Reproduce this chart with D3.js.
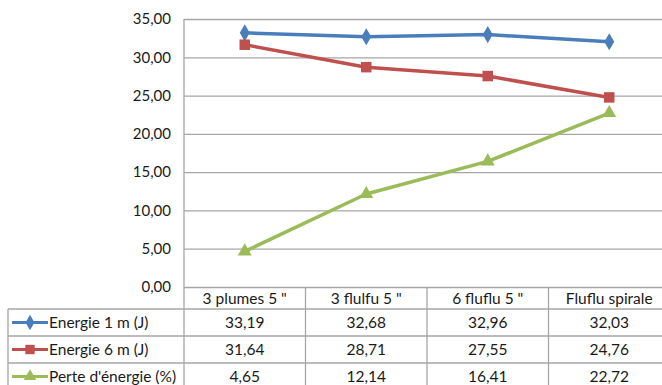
<!DOCTYPE html>
<html><head><meta charset="utf-8">
<script src="https://cdn.jsdelivr.net/npm/d3@7"></script>
<style>body{margin:0;background:#fff;} svg{display:block;} text{font-family:Lato, "Open Sans", sans-serif;fill:#1a1a1a;}</style>
</head><body><svg id="c" width="662" height="385"></svg>
<script>
const categories = ["3 plumes 5 \"", "3 flulfu 5 \"", "6 fluflu 5 \"", "Fluflu spirale"];
const seriesNames = ["Energie 1 m (J)", "Energie 6 m (J)", "Perte d'énergie (%)"];
const energie1m = [33.19, 32.68, 32.96, 32.03];
const energie6m = [31.64, 28.71, 27.55, 24.76];
const perte = [4.65, 12.14, 16.41, 22.72];
const yTicks = [0, 5, 10, 15, 20, 25, 30, 35];

(function () {
const series = [
  {name: seriesNames[0], values: energie1m, color: "#4a7ebb", shape: d3.symbolDiamond, size: 85},
  {name: seriesNames[1], values: energie6m, color: "#c0504d", shape: d3.symbolSquare, size: 110},
  {name: seriesNames[2], values: perte, color: "#9bbb59", shape: d3.symbolTriangle, size: 85}
];

const loc = d3.formatLocale({decimal: ",", thousands: " ", grouping: [3], currency: ["", "€"]});
const fmt = loc.format(".2f");

const svg = d3.select("#c");
const pLeft = 184, pRight = 670, pTop = 19, pBottom = 287;
const x = d3.scaleBand().domain(categories).range([pLeft, pRight]).padding(0);
const y = d3.scaleLinear().domain([0, 35]).range([pBottom, pTop]);
const gridColor = "#a6a6a6";
const fs = 15.5;

const ax = svg.append("g").attr("transform", `translate(${pLeft},0)`)
  .call(d3.axisLeft(y).tickValues(yTicks).tickFormat(fmt).tickSize(-(pRight - pLeft)).tickPadding(13));
ax.select(".domain").remove();
ax.selectAll(".tick line").attr("stroke", gridColor).attr("stroke-width", 1.3);
ax.selectAll(".tick text").attr("font-size", 15).style("font-family", "Lato, sans-serif").attr("fill", "#1a1a1a");

const headerTop = pBottom, headerBottom = 309, rowH = 27;
const tableLeft = 8;
const rowTops = series.map((s, i) => headerBottom + i * rowH);
const tableBottom = headerBottom + series.length * rowH;

const lines = svg.append("g").attr("stroke", gridColor).attr("stroke-width", 1.3);
lines.append("line").attr("x1", pLeft).attr("x2", pLeft).attr("y1", pTop).attr("y2", tableBottom);
x.domain().forEach(c => {
  const xr = x(c) + x.bandwidth();
  lines.append("line").attr("x1", xr).attr("x2", xr).attr("y1", headerTop).attr("y2", tableBottom);
});
lines.append("line").attr("x1", tableLeft).attr("x2", tableLeft).attr("y1", headerBottom).attr("y2", tableBottom);
[headerBottom, ...rowTops.slice(1), tableBottom].forEach(yy => {
  lines.append("line").attr("x1", tableLeft).attr("x2", pRight).attr("y1", yy).attr("y2", yy);
});

svg.append("g").selectAll("text").data(categories).join("text")
  .attr("x", d => x(d) + x.bandwidth() / 2)
  .attr("y", (headerTop + headerBottom) / 2 + 1)
  .attr("dy", "0.35em").attr("text-anchor", "middle").attr("font-size", fs)
  .text(d => d);

series.forEach((s, i) => {
  const cy = rowTops[i] + rowH / 2;
  const g = svg.append("g");
  g.append("line").attr("x1", 12).attr("x2", 48).attr("y1", cy).attr("y2", cy)
    .attr("stroke", s.color).attr("stroke-width", 3);
  g.append("path").attr("d", d3.symbol(s.shape, s.size * 0.8)())
    .attr("transform", `translate(30,${cy})`).attr("fill", s.color);
  g.append("text").attr("x", 49).attr("y", cy).attr("dy", "0.35em").attr("font-size", fs).text(s.name);
  g.selectAll("text.v").data(s.values).join("text").attr("class", "v")
    .attr("x", (d, j) => x(categories[j]) + x.bandwidth() / 2)
    .attr("y", cy).attr("dy", "0.35em").attr("text-anchor", "middle").attr("font-size", fs)
    .text(d => fmt(d));
});

const lineGen = d3.line().x((d, j) => x(categories[j]) + x.bandwidth() / 2).y(d => y(d));
series.forEach(s => {
  svg.append("path").datum(s.values).attr("d", lineGen)
    .attr("fill", "none").attr("stroke", s.color).attr("stroke-width", 3.5).attr("stroke-linejoin", "round");
  svg.append("g").selectAll("path").data(s.values).join("path")
    .attr("d", d3.symbol(s.shape, s.size)())
    .attr("transform", (d, j) => `translate(${x(categories[j]) + x.bandwidth() / 2},${y(d)})`)
    .attr("fill", s.color);
});
})();
</script></body></html>
